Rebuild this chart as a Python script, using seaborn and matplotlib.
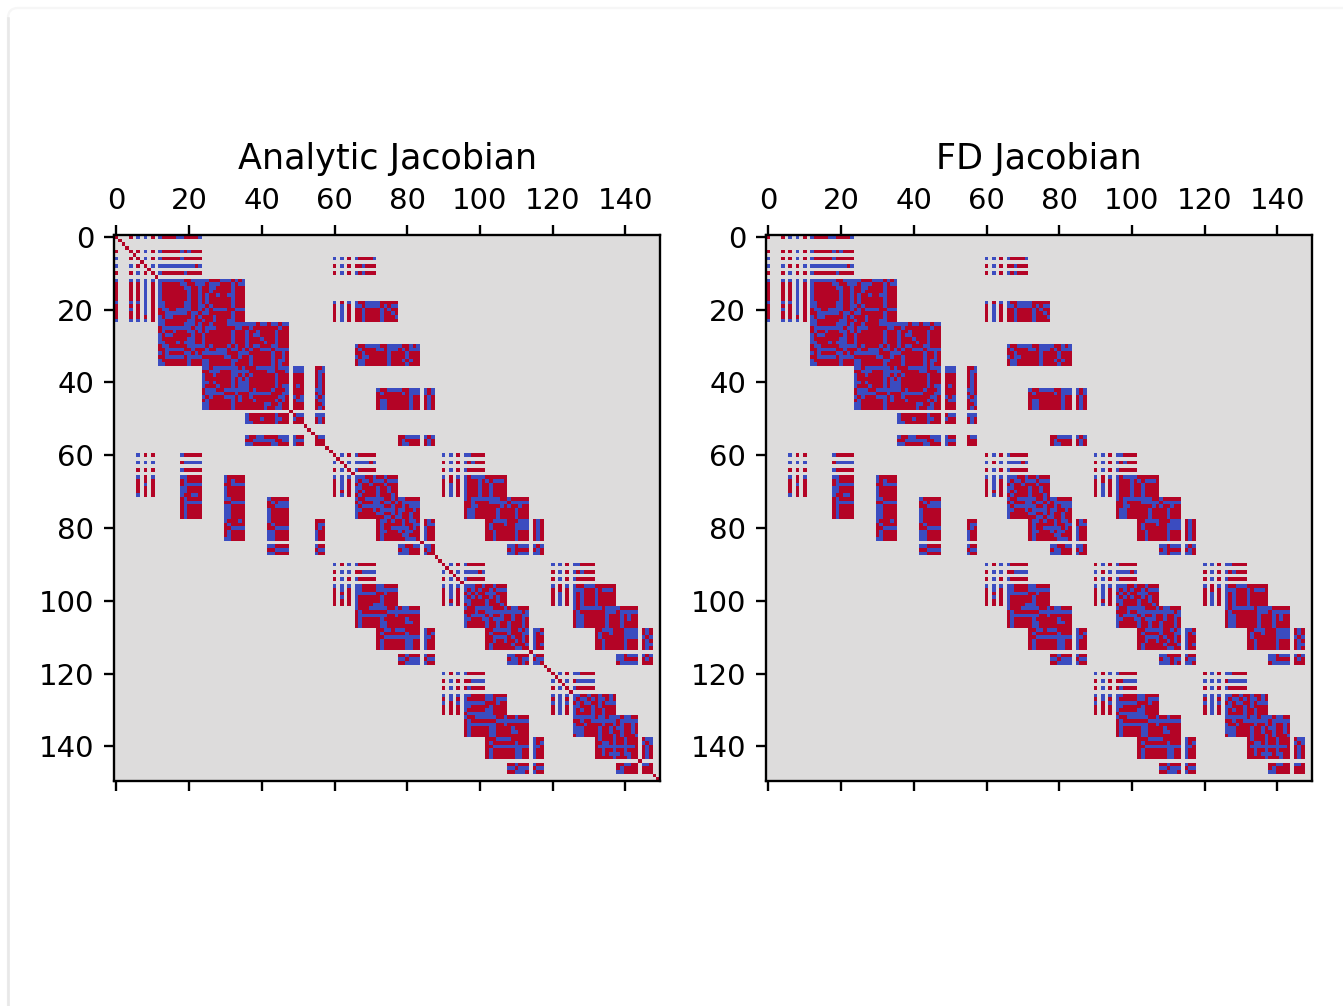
import matplotlib
matplotlib.use("Agg")
import matplotlib.pyplot as plt
import numpy as np
import seaborn as sns
from matplotlib.lines import Line2D
from matplotlib.patches import FancyBboxPatch
from matplotlib.transforms import IdentityTransform

SIZE = 150
TICKS = [0, 20, 40, 60, 80, 100, 120, 140]
TITLES = ["Analytic Jacobian", "FD Jacobian"]

DIAG_ROWS = [1, 2, 3, 4, 5, 6, 7, 8, 9, 10, 11, 48, 52, 53, 54, 58, 59, 60, 61, 62, 63, 64, 65, 84,
             88, 89, 90, 91, 92, 93, 94, 95, 114, 118, 119, 120, 121, 122, 123, 124, 125,
             144, 148, 149]

HEAD_0 = [
    "r...r.b.b.r.brrrrbbrrrrb",
    "............",
    "............",
    "............",
    "r...r.r.b.r.brrrrrbrbrrr",
    "............",
    "b...r.r.b.r.brrrrrbrrrrr",
    "............",
    "b...b.r.r.b.bbbbbbbbbbrb",
    "............",
    "r...r.b.r.r.brrrrrrbrrrr",
]
SIDE_0 = [
    "b...b.b.b.b",
    "r...r.r.b.r",
    "r...r.r.b.r",
    "r...r.r.b.r",
    "r...r.r.b.r",
    "r...r.r.b.r",
    "b...b.b.b.r",
    "r...r.r.b.r",
    "r...b.r.b.r",
    "r...r.r.b.r",
    "r...r.r.r.r",
    "b...b.b.b.r",
]
CORE_12 = [
    "bbbbbbbrrbbbbbrrrbbbrbrb",
    "brrrrrbbrrbbbrbbbrrrbrbb",
    "brrrrrrbbrrbrrbbrrrrbrrr",
    "brrrrrrrbrrbrrbrrrrrbrrr",
    "brrrrrrrbrrbrbrrbrrbbrrr",
    "brrrrrrrbrrbrbrrrrrrbrrr",
    "bbrrrrrbbrrbrbrrrrrrbrrr",
    "bbrrrrrbbrrbbrbrrrrrbrrr",
    "rbbrrbbbbrrbrbrbbbbrrbbb",
    "rrbbbbbbrbbrbbrrrrrrbrrr",
    "brbbrrrrrbrbrrrbrrrrbrrr",
    "bbrrrrrrbbrrbrrbrrrbbrrr",
    "bbrrrrrbbbrbrrbrrrrbbbbbbbbrbbrbbrbb",
    "rbbbbbbbbrbbrbbbrrrrrbbrrbrrrrrrrbrr",
    "rbrrbrrrbbrbrbrrrrrrbrrrbrrbrrrrbrrr",
    "brbbrrrrrbrrbrrrrrrrbrrrbrbbrrrrbrrr",
    "brrrrrrrbbrrbrrrrrrrbrrrbrrrbrrrbrrr",
    "bbrrrbrbbbrrbrrrrrrrbrrrbrrrrbrrbrrr",
    "rbbrrrrrbbbbbrbrrrrbrbrrbrbbrrrbbrrr",
    "rrbbbbbrrbrrrbrrbbbrbbrbrbrrbbbrbbbb",
    "brbrrrrbbrbrbbbbbbbrrrbbbrrrrrrbrrbr",
    "rrbbbbbrbbbbrrrrrrbbrrbrrbrrrrrbrrbr",
    "brrrrrrrbrrrbbrrrrrrbbrrrbrrrrrbrbbr",
    "bbrrrrrrbrrrbbrrrrrrbrrrrbrrrrrbrbrr",
]
CORE_36 = [
    "bbrbbbbbbbrbrrrbbbbbrbbb",
    "rrbbbrrrbbbbbrrrrrbbrrrb",
    "brrbrrrrbbrbrbrrrrrrbrrr",
    "brrrrrrrbrbrbrrrrrrrbrrr",
    "bbrbrrrrbrbbbrrrrrrrbrrr",
    "brrrbrrrbrbbbrrrrrrrbrbb",
    "rbbbrrbbbbbbbrbrrrrbrrrb",
    "rbbbbbrrrbrrrbbbbbbrrrbb",
    "brbrrrbbbrbrrbrrrrrrrbbr",
    "rbrrrrrrbrbrrrbrrrrrbrbr",
    "bbrrrrrrbrrrrrrrrbbrrbrr",
    "bbrrrrrrbrrrrrrrrbrrbbrr",
]
STUB_49 = [
    "bbb...rrb",
    "bbb...rbb",
    "rrr...rbr",
    "rrr...rbr",
    "rrr...rbr",
    "rbr...rbr",
    "rrr...bbr",
    "rrr...rbr",
    "brb...brb",
    "rbb...rbb",
    "rrr...rrb",
    "rrr...rbr",
]
LOW_49 = [
    "brrrrrrrbrrr.rbb...bbb",
    "brrrbrrrbbrr.brr...rbr",
    "bbrrrrrrbrrr.rrr...rbr",
    "......................",
    "......................",
    "......................",
    "brrbbrrrrbbb.brr...rbb",
    "rrbbbbbbrrbb.bbb...rrr",
    "bbrrrrrbbrrr.brr...rrr",
]

HEAD_6_60 = ["b.b.r.brrrrb", "............", "r.b.r.rrbrrr", "............", "r.b.r.brbrrr"]
SIDE_18_60 = ["b.r.b", "r.b.r", "r.b.r", "r.b.r", "r.b.r", "r.b.r"]
CORE_18_66 = [
    "brrbbbbrrrrr",
    "bbrbbbbrbrbb",
    "rrbrrrrbrbrr",
    "rrbrrrrbrrbr",
    "rrbrrrrbrrrb",
    "rrbrrrrbrrrr",
]
CORE_30_66 = [
    "brrbbbbrrbbbbrrbrb",
    "rbrrrrbbrbbbrbrbbb",
    "rrbrrrrrrbrrrrbrrr",
    "brbbrrrrrbrrrrbrrr",
    "rbbrrrrrrbrrrbrbrr",
    "rbbrrrrrrbrrrrbrrr",
]
CORE_42_72 = [
    "brrbbbbrrbbb.brb",
    "rbrrrrrbrbbb.brb",
    "rrrrrrrrrbrr.rbr",
    "rbbrrrrrrbrr.rbr",
    "rbbrrrrrrbrr.rbr",
    "rbbrrrrrrbrr.rbr",
]
CORE_55_78 = ["rrbbbb.brb", "rbrrrr.rbr", "rbbrrr.rbr"]

HEAD_60_6 = ["b.r.r.......brrrrr", "", "b.b.b.......rbbbbb", "", "r.r.r.......brrrrr"]
SIDE_66_6 = ["b.r.b", "r.r.r", "r.b.r", "r.r.r", "r.r.r", "b.r.r"]
COL_66_18 = [
    "bbrrrr", "rbrrrr", "rbbbbb", "bbrrrr", "bbrrrr", "brrbbr",
    "rbrrrr", "rbbbbb", "rbrrrr", "rbrrrr", "rbrrrr", "rbrrrr",
]
COL_66_30 = [
    "brrrrr", "brbrrr", "rrbbbb", "brrrrr", "brrrrr", "brrrrr",
    "bbrrrr", "rrbbbb", "bbrrrr", "bbrrrr", "bbrrrr", "bbrrrr",
    "brrrbr", "rbrrrr", "rrbbbb", "rbrrrr", "rbrrrr", "bbrrrr",
]
COL_72_42 = [
    "brrrrr", "rbrbbb", "rrbbbb", "brrrrr", "brrrrr", "brrrrr",
    "brrrrr", "rbrrrr", "rrbbbb", "bbrrrr", "bbrrrr", "bbrrrr",
    "......", "bbrrrr", "rrbbbb", "bbrrrr",
]
COL_78_55 = ["rrr", "rbb", "rbr", "brr", "brr", "brr", "...", "brr", "rbb", "brr"]

HEAD_60_60 = ["r.b.r.brrrrr", "............", "b.r.b.bbbbrb", "............", "r.b.r.brrrrr"]
SIDE_66_60 = ["b.b.b", "r.b.r", "r.b.r", "r.b.r", "r.r.r", "r.b.r"]
CORE_66_66 = [
    "bbbrrbrrbrrr",
    "brbbrbbbrbbb",
    "rbrrbrrrbrrr",
    "bbrrrrbrrbrr",
    "brbrrrbrrbrr",
    "rbrrrrbrrrbr",
    "brrbbbbbrrbrbbrrrr",
    "rbrrrbbrbbrbrbbbbb",
    "brbbbbbbrrbrrbrbbb",
    "bbrrrbrbbbbrbbrrbr",
    "brrrrrbbrrbrbrrbrr",
    "brrrrrrrbbrbbrrbrr",
]
LOW_66_66 = [
    "......rbbrbrrbrbbr.rbr",
    "......rbrrrrrbrrbb.rbb",
    "......rbrrbbbbbrbr.brr",
    "......rbbrrrbrbbrr.brr",
    "......rbrrrrrbbrrr.brr",
    "......rbrrrrrrbbbr.brr",
    "",
    "............bbrrbb.bbr",
    "............rbbrrr.rbr",
    "............bbbrrr.brr",
]

HEAD_60_90 = ["b.b.r.bbrrrr", "............", "r.b.r.brbrrr", "............", "r.b.r.brrrrr"]
SIDE_66_90 = ["b.r.b", "r.r.r", "r.b.r", "r.b.r", "r.b.r", "r.b.r"]
CORE_66_96 = [
    "brbbbbrrrrrr",
    "brrrbrbrbbbr",
    "brrrbrrbrrrr",
    "brrrbrrbrrrr",
    "brrrbrrbrrrr",
    "brrrbrrbrrrr",
    "brbbbbbbbbrrbrrrrr",
    "rrbrrrrbbbbbrbbbbb",
    "rrbbrrrrrrbrbrrbrr",
    "rbbrrrrrrbrrrrbrrr",
    "rbbrrrrrrbrrrrbrrr",
    "rbbrrrrrrbrrrrbrrr",
]
LOW_66_96 = [
    "......rrbbbbrrrbbb.rbr",
    "......rbrrrbrrbbbb.rbr",
    "......rbrrrrrrbbbb.rbr",
    "......rrbrrrrrbrrr.rbr",
    "......rrbrrrrrbrrr.rbr",
    "......rrbrrrrrbrrr.rbr",
    "",
    "............bbrbbb.brb",
    "............rbrrrr.rbr",
    "............bbrbbb.bbr",
]

HEAD_90_60 = ["b.r.b.brrrrr", "............", "r.b.b.rrbbbb", "............", "r.b.r.brrrrr"]
SIDE_96_60 = ["b.b.b", "r.b.r", "r.r.r", "r.b.r", "r.r.r", "r.r.r"]
CORE_96_66 = [
    "bbrrrrbbrrrr",
    "bbrrrrbbbbbb",
    "bbbbbbrrbrrr",
    "brrrrrrbrrrr",
    "brrrrrrbrrrr",
    "brrrrbbbrrrr",
    "brrrbbbbbrrbrbbrrr",
    "rbrrrrrrrbbbbbbbbb",
    "rbbbbbbbbrrbrrrrrr",
    "rbrrrrrbrrrrrrbrrr",
    "rbrrrrrbbrrrrrbbrr",
    "rbrrrrrbbrrrrrrrrr",
]
LOW_96_66 = [
    "......rrbbrbbbrrrr.brr",
    "......rbrrrrrrbrrr.brb",
    "......rrbbbbbbbbbb.bbr",
    "......rbrrrrrrbbrr.brr",
    "......rbrrrrrrbbrr.brr",
    "......rbrrrrrrbbrr.brr",
    "",
    "............rrbrrr.brr",
    "............bbrbbb.rbb",
    "............rrbbbb.brr",
]

HEAD_90_90 = ["r.b.r.brrrrr", "............", "b.r.b.bbbbrb", "............", "r.b.r.brrrrr"]
SIDE_96_90 = ["b.b.b", "r.b.r", "r.b.r", "r.b.r", "r.r.r", "r.b.r"]
CORE_96_96 = [
    "bbbrrbrrbrrr",
    "brbrbrrbrbbb",
    "rbrbrrbbbrrr",
    "brbrbrrbrbrr",
    "bbrrrrbrrbrr",
    "rbrrrrbrrrbr",
    "brrbbbbbrrrbrbbrrr",
    "rrrbrrbbbbbbbbbbrb",
    "brbbbbrbrrbrrbrrbb",
    "bbrrrbbrbbbrrbrrbr",
    "brrrrrbrrbrrbrrrbr",
    "brrrrrbrrbrrbrrrbr",
]
LOW_96_96 = [
    "......rrbbbbbrrbrb.bbr",
    "......rbrrrrbrrrbb.brb",
    "......rrbbbbrbrrbr.brr",
    "......rrbrrbrrbrbr.brr",
    "......rbrrrrrbrrrb.brb",
    "......rbrrrrrrbbrr.brr",
    "",
    "............bbrrrr.brr",
    "............rbbrbb.rbb",
    "............bbbrbr.bbr",
]

HEAD_90_120 = ["b.b.r.bbrrrr", "............", "r.b.r.brbrrr", "............", "r.b.r.brrrrr"]
SIDE_96_120 = ["b.r.b", "r.r.r", "r.b.r", "r.b.r", "r.b.r", "r.b.r"]
CORE_96_126 = [
    "brrbbbrrrrrr",
    "bbbrrrbrbbbr",
    "brbrrrbrrrrr",
    "brbrrrbrrrrr",
    "brbrrrbrrrrr",
    "brbrrrbrrrrr",
    "brbbbbbbrbbbbrrrrr",
    "rbrrrrrrrbbbrbbbbb",
    "rbbrrrrrrbrrrbrbrr",
    "rbbrrrrrrbrrrbrbrr",
    "rbbrrrrrrbrrrbrrrr",
    "rbbrrrrrrbrrrbrrrr",
]
LOW_96_126 = [
    "......rrbbbrrrbbbb.rbr",
    "......rbrrbrrrbbbb.rbr",
    "......rbrrrrrrbbbb.brb",
    "......rrbrrrrrbrrr.rbr",
    "......rrbrrrrrbrrr.rbb",
    "......rrbrrrrrbrrr.rbr",
    "",
    "............bbrbbb.brb",
    "............bbrrrr.rbr",
    "............rbbbbb.rrr",
]

HEAD_120_90 = ["b.r.b.brrrrr", "............", "r.b.r.rrbbbb", "............", "r.b.r.rbrrrr"]
SIDE_126_90 = ["b.b.b", "r.b.r", "b.r.b", "r.r.r", "r.r.r", "r.r.r"]
CORE_126_96 = [
    "bbrrrrbbrrrr",
    "brrrrrbbrbbb",
    "bbbbbbrrrbrr",
    "bbrrrrrbrrrr",
    "brrrrrbbrrrr",
    "rbbbbbbbrrrr",
    "brrbbbbbbrrbrrbrrr",
    "rbrrrrrrrbbbbbbbbb",
    "rbbbbbbbbrrbrrrrrr",
    "rbrrrrrbbrrrrbrrrr",
    "rbrrrrrbbrrrrbbrrr",
    "rbrrrrrbbrrrrrrrrr",
]
LOW_126_96 = [
    "......rrrbbbbrrrrr.brr",
    "......rbrrrrrrbrrr.brb",
    "......rrbbbbbbbbbb.bbr",
    "......rbrrrrrrbbrr.brr",
    "......rbrrrrrrbbrr.brr",
    "......rbrrrrrrbbrr.brr",
    "",
    "............rrbrrr.brr",
    "............bbrbbb.rbb",
    "............rrbbbr.brr",
]

HEAD_120_120 = ["r.b.r.bbrrrr", "............", "b.b.b.rbbbbb", "............", "r.b.r.brrrrr"]
SIDE_126_120 = ["b.b.b", "r.b.r", "b.b.b", "r.b.r", "r.b.r", "r.b.r"]
CORE_126_126 = [
    "bbrrbrrbrrbr",
    "brbbrbrbbrbr",
    "rbrbbrrbrbbb",
    "bbrrrbrbrrrr",
    "brbrrbrrbrrr",
    "brrrrbrrbrrr",
    "bbbbbbrbbrbbbrbbrr",
    "rrbrrbbbbbbbrbbbbb",
    "brrbrrrrbrrbrbrrbr",
    "bbbrrrrbrrbrbbrrbr",
    "bbbrrrrbrrbrrbrrbr",
    "rbbrrrrbrrrbrbrrrb",
]
LOW_126_126 = [
    "......rbrrrbrrbrrr.rbb",
    "......rrbbrbrrbrrr.brb",
    "......rbbbbbbbbbbr.rbr",
    "......rrbrrbrrbrrr.rbr",
    "......rrbrbbbrbbrr.rbr",
    "......rrrrrbrrrbrr.rbr",
    "",
    "............rrbbrr.bbr",
    "............rbrrrr.rrr",
    "............bbrrrr.rrr",
]

BLOCKS = [
    (0, 0, HEAD_0), (12, 0, SIDE_0), (12, 12, CORE_12), (36, 24, CORE_36), (36, 49, STUB_49), (49, 36, LOW_49),
    (6, 60, HEAD_6_60), (18, 60, SIDE_18_60), (18, 66, CORE_18_66), (30, 66, CORE_30_66),
    (42, 72, CORE_42_72), (42, 85, ["brb", "brb", "rbr", "rbr", "rbr", "rbr"]), (55, 78, CORE_55_78),
    (60, 6, HEAD_60_6), (66, 6, SIDE_66_6),
    (66, 18, COL_66_18), (66, 30, COL_66_30), (72, 42, COL_72_42), (78, 55, COL_78_55),
    (60, 60, HEAD_60_60), (66, 60, SIDE_66_60), (66, 66, CORE_66_66), (78, 66, LOW_66_66),
    (60, 90, HEAD_60_90), (66, 90, SIDE_66_90), (66, 96, CORE_66_96), (78, 96, LOW_66_96),
    (90, 60, HEAD_90_60), (96, 60, SIDE_96_60), (96, 66, CORE_96_66), (108, 66, LOW_96_66),
    (90, 90, HEAD_90_90), (96, 90, SIDE_96_90), (96, 96, CORE_96_96), (108, 96, LOW_96_96),
    (90, 120, HEAD_90_120), (96, 120, SIDE_96_120), (96, 126, CORE_96_126), (108, 126, LOW_96_126),
    (120, 90, HEAD_120_90), (126, 90, SIDE_126_90), (126, 96, CORE_126_96), (138, 96, LOW_126_96),
    (120, 120, HEAD_120_120), (126, 120, SIDE_126_120), (126, 126, CORE_126_126), (138, 126, LOW_126_126),
]

SIGN = {"r": 1, "b": -1}


def build_jacobian(with_diag):
    mat = np.zeros((SIZE, SIZE))
    for row, col, lines in BLOCKS:
        for i, line in enumerate(lines):
            for j, ch in enumerate(line):
                if ch in SIGN:
                    mat[row + i, col + j] = SIGN[ch]
    if with_diag:
        for d in DIAG_ROWS:
            mat[d, d] = 1
    return mat


fig = plt.figure(figsize=(1343 / 210, 1006 / 210), dpi=210)

# the card outline around the picture, in pixels
card = FancyBboxPatch((8, -100), 1400, 1098, boxstyle="round,pad=0,rounding_size=10",
                      transform=IdentityTransform(), fc="white", ec="#f6f6f6", lw=0.8, zorder=-2)
fig.add_artist(card)
fig.add_artist(Line2D([8, 8], [0, 988], transform=IdentityTransform(), color="#e8e8e8", lw=0.9, zorder=-1))

lefts = [114.5 / 1343, 766.5 / 1343]
for left, title, with_diag in zip(lefts, TITLES, [True, False]):
    ax = fig.add_axes([left, 1 - 781 / 1006, 545.5 / 1343, 546 / 1006])
    sns.heatmap(build_jacobian(with_diag), cmap="coolwarm", vmin=-1, vmax=1, cbar=False, ax=ax)
    ax.set_xticks([t + 0.5 for t in TICKS])
    ax.set_xticklabels(TICKS, rotation=0)
    ax.set_yticks([t + 0.5 for t in TICKS])
    ax.set_yticklabels(TICKS, rotation=0, va="center_baseline")
    ax.tick_params(top=True, labeltop=True, bottom=True, labelbottom=False, left=True)
    for spine in ax.spines.values():
        spine.set_visible(True)
        spine.set_linewidth(0.8)
    ax.set_title(title)

fig.savefig("out.png", dpi=210)
